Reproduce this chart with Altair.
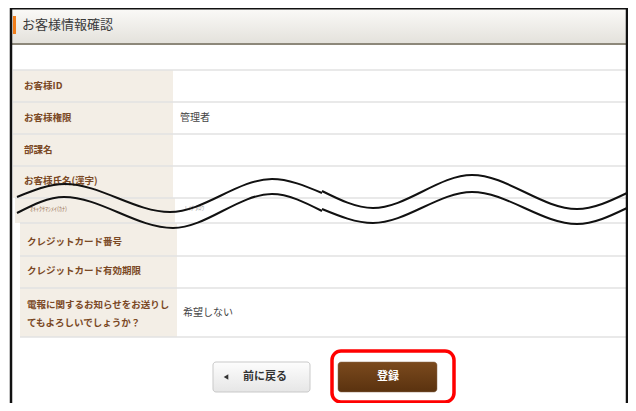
import altair as alt
import pandas as pd

W, H = 620, 395
FONT = "Noto Sans CJK JP"

# ---- content ----
title_text = "お客様情報確認"
labels = ["お客様ID", "お客様権限", "部課名", "お客様氏名(漢字)", "ｵｷｬｸｻﾏｼﾒｲ(ｶﾅ)",
          "クレジットカード番号", "クレジットカード有効期限", "電報に関するお知らせをお送りし"]
label_line2 = "てもよろしいでしょうか？"
values = ["", "管理者", "", "", "ﾚｲﾁ ﾀﾛｳ", "", "", "希望しない"]
back_text = "前に戻る"
submit_text = "登録"

# ---- layout (image pixels) ----
row_top = [70, 102, 134, 166, 198, 223, 256, 288]
row_bottom = [102, 134, 166, 198, 223, 256, 288, 337]
row_left = [13, 13, 13, 13, 15, 20, 20, 20]
label_right = [173, 173, 173, 173, 175, 177, 177, 177]
label_x = [24, 24, 24, 24, 30, 27, 27, 27]
label_y = [86, 118, 150, 181, 209, 242, 271, 305]
label2_y = 323
value_x = [180, 180, 180, 180, 185, 180, 180, 183]
value_y = [86, 118, 150, 181, 208, 242, 271, 313]

# wave break lines
wave_up_l_x = [17, 65, 170, 272, 322]
wave_up_l_y = [197, 184, 212, 179, 193]
wave_lo_l_x = [17, 64, 173, 272, 322]
wave_lo_l_y = [213, 197, 228, 194, 211]
wave_up_r_x = [322, 373, 472, 577, 627]
wave_up_r_y = [191, 208, 175, 209, 193]
wave_lo_r_x = [322, 373, 472, 577, 627]
wave_lo_r_y = [209, 223, 192, 224, 208]

xs = alt.Scale(domain=[8, 8 + W], nice=False, zero=False)
ys = alt.Scale(domain=[8, 8 + H], nice=False, zero=False, reverse=True)


def X(f="x"):
    return alt.X(f + ":Q", scale=xs, axis=None)


def Y(f="y"):
    return alt.Y(f + ":Q", scale=ys, axis=None)


def rect(df, **kw):
    return alt.Chart(df).mark_rect(**kw).encode(
        x=X("x"), x2="x2", y=Y("y"), y2="y2")


def grad(c1, c2):
    return alt.Gradient(gradient="linear",
                        stops=[alt.GradientStop(color=c1, offset=0),
                               alt.GradientStop(color=c2, offset=1)],
                        x1=0, x2=0, y1=0, y2=1)


layers = []

# header
layers.append(rect(pd.DataFrame({"x": [12], "x2": [626], "y": [8], "y2": [43]}),
                   color=grad("#fbfaf8", "#e4e2dc")))
layers.append(alt.Chart(pd.DataFrame({"x": [12], "x2": [626], "y": [44]}))
              .mark_rule(color="#8d887a", strokeWidth=2)
              .encode(x=X("x"), x2="x2", y=Y("y")))
layers.append(rect(pd.DataFrame({"x": [13], "x2": [16], "y": [16], "y2": [34]}),
                   color="#f07d1a"))
layers.append(alt.Chart(pd.DataFrame({"x": [22], "y": [25], "t": [title_text]}))
              .mark_text(align="left", baseline="middle", font=FONT, fontSize=13,
                         color="#3a3a3a")
              .encode(x=X("x"), y=Y("y"), text="t:N"))

# label column backgrounds
rows = pd.DataFrame({"x": row_left, "x2": label_right, "y": row_top, "y2": row_bottom})
layers.append(rect(rows, color="#f3eee6"))

# row lines
lines = pd.DataFrame({"x": row_left + [20], "x2": [626] * 9,
                      "y": row_top + [337]})
layers.append(alt.Chart(lines).mark_rule(color="#e2e2e2", strokeWidth=1.5)
              .encode(x=X("x"), x2="x2", y=Y("y")))

# labels
lab = pd.DataFrame({"x": label_x, "y": label_y, "t": labels,
                    "s": [10, 10, 10, 10, 6, 10, 10, 10]})
lab = pd.concat([lab, pd.DataFrame({"x": [27], "y": [label2_y], "t": [label_line2], "s": [10]})])
big = lab[lab.s == 10]
small = lab[lab.s == 6]
layers.append(alt.Chart(big).mark_text(align="left", baseline="middle", font=FONT,
                                       fontSize=9.5, fontWeight=600, color="#7a4824")
              .encode(x=X("x"), y=Y("y"), text="t:N"))
layers.append(alt.Chart(small).mark_text(align="left", baseline="middle", font=FONT,
                                         fontSize=6, color="#8a5a36", opacity=0.8)
              .encode(x=X("x"), y=Y("y"), text="t:N"))

# values
val = pd.DataFrame({"x": value_x, "y": value_y, "t": values,
                    "s": [10, 10, 10, 10, 6, 10, 10, 10]})
val = val[val.t != ""]
layers.append(alt.Chart(val[val.s == 10]).mark_text(align="left", baseline="middle",
                                                    font=FONT, fontSize=10, color="#444444")
              .encode(x=X("x"), y=Y("y"), text="t:N"))
layers.append(alt.Chart(val[val.s == 6]).mark_text(align="left", baseline="middle",
                                                   font=FONT, fontSize=6, color="#777777",
                                                   opacity=0.7)
              .encode(x=X("x"), y=Y("y"), text="t:N"))

# wave break lines
for name, wx, wy in [("ul", wave_up_l_x, wave_up_l_y), ("ll", wave_lo_l_x, wave_lo_l_y),
                     ("ur", wave_up_r_x, wave_up_r_y), ("lr", wave_lo_r_x, wave_lo_r_y)]:
    df = pd.DataFrame({"x": wx, "y": wy, "o": list(range(len(wx)))})
    layers.append(alt.Chart(df).mark_line(color="#111111", strokeWidth=2,
                                          interpolate="monotone")
                  .encode(x=X("x"), y=Y("y"), order="o:Q"))

# outer frame
frame_v = pd.DataFrame({"x": [11, 627], "y": [8, 8], "y2": [403, 403]})
layers.append(alt.Chart(frame_v).mark_rule(color="#111111", strokeWidth=2.5)
              .encode(x=X("x"), y=Y("y"), y2="y2"))
layers.append(alt.Chart(pd.DataFrame({"x": [10], "x2": [628], "y": [8]}))
              .mark_rule(color="#111111", strokeWidth=3)
              .encode(x=X("x"), x2="x2", y=Y("y")))

# back button
layers.append(rect(pd.DataFrame({"x": [213], "x2": [310], "y": [362], "y2": [392]}),
                   color=grad("#fdfdfd", "#e6e6e6"), stroke="#c9c9c9", strokeWidth=1,
                   cornerRadius=3))
layers.append(alt.Chart(pd.DataFrame({"x": [226], "y": [377]}))
              .mark_point(shape="triangle-left", filled=True, size=28, color="#333333",
                          opacity=1)
              .encode(x=X("x"), y=Y("y")))
layers.append(alt.Chart(pd.DataFrame({"x": [265], "y": [377], "t": [back_text]}))
              .mark_text(align="center", baseline="middle", font=FONT, fontSize=11,
                         fontWeight="bold", color="#333333")
              .encode(x=X("x"), y=Y("y"), text="t:N"))

# submit button
layers.append(rect(pd.DataFrame({"x": [338], "x2": [437], "y": [362], "y2": [392]}),
                   color=grad("#7b4a1e", "#5a320f"), stroke="#8a6a50", strokeWidth=0.5,
                   cornerRadius=3))
layers.append(alt.Chart(pd.DataFrame({"x": [388], "y": [377], "t": [submit_text]}))
              .mark_text(align="center", baseline="middle", font=FONT, fontSize=11,
                         fontWeight="bold", color="#ffffff")
              .encode(x=X("x"), y=Y("y"), text="t:N"))

# red highlight
layers.append(rect(pd.DataFrame({"x": [332], "x2": [454], "y": [351], "y2": [402]}),
                   filled=False, stroke="#ff0000", strokeWidth=3.5, cornerRadius=9))

chart = alt.layer(*layers).properties(
    width=W, height=H, padding=0, autosize=alt.AutoSizeParams(type="none")
).configure_view(stroke=None)

chart.save("out.html", embed_options={"renderer": "svg", "actions": False})
